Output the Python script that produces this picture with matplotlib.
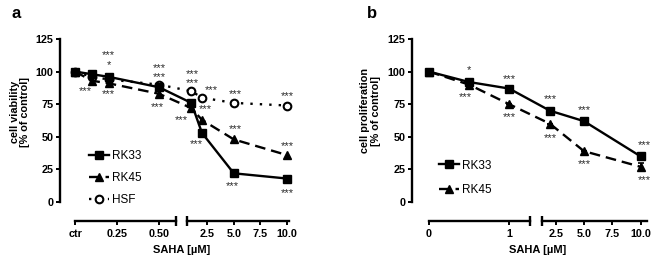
import numpy as np
import matplotlib
matplotlib.use('Agg')
import matplotlib.pyplot as plt
from matplotlib.spines import Spine
import matplotlib.transforms as mtransforms

plt.rcParams['font.family'] = ['Liberation Sans', 'DejaVu Sans']

# ---- data panel a (cell viability) ----
conc_a = [0, 0.1, 0.2, 0.5, 1, 2, 5, 10]
rk33_a = [100, 98, 96, 88, 76, 53, 22, 18]
rk45_a = [100, 93, 91, 83, 72, 63, 48, 36]
hsf_a = [100, 96, 94, 90, 85, 80, 76, 74]
ticks_a = [0, 0.25, 0.5, 2.5, 5, 7.5, 10]
ticklabels_a = ['ctr', '0.25', '0.50', '2.5', '5.0', '7.5', '10.0']

# ---- data panel b (cell proliferation) ----
conc_b = [0, 0.5, 1, 2, 5, 10]
rk33_b = [100, 92, 87, 70, 62, 35]
rk45_b = [100, 90, 75, 60, 39, 27]
rk45_b_err = [0, 0, 0, 0, 0, 3]
ticks_b = [0, 1, 2.5, 5, 7.5, 10]
ticklabels_b = ['0', '1', '2.5', '5.0', '7.5', '10.0']

# significance labels (x, y, text)
stars_a = [(0.06, 85, '***'), (0.2, 112.5, '***'), (0.2, 105, '*'), (0.2, 83, '***'),
           (0.5, 103, '***'), (0.5, 96, '***'), (0.49, 72.5, '***'),
           (1.05, 98, '***'), (1.05, 91, '***'), (2.9, 86, '***'), (2.3, 71, '***'),
           (0.61, 63, '***'), (1.5, 44.5, '***'),
           (5.1, 83, '***'), (5.1, 56, '***'), (4.9, 12.5, '***'),
           (10, 81, '***'), (10, 43, '***'), (10, 6.5, '***')]
stars_b = [(0.5, 101.5, '*'), (0.45, 80.5, '***'), (1, 94.5, '***'), (1, 65, '***'),
           (2, 79, '***'), (2, 49, '***'), (5, 70.5, '***'), (5, 29, '***'),
           (10.3, 43.5, '***'), (10.3, 16.5, '***')]

W, H = 654, 264
fig = plt.figure(figsize=(W / 100, H / 100), dpi=100)


def make_axes(left, right, xp, up, seg1, seg2):
    ax = fig.add_axes([left / W, (H - 202) / H, (right - left) / W, 163 / H])
    fwd = lambda x: np.interp(x, xp, up)
    inv = lambda u: np.interp(u, up, xp)
    ax.set_xscale('function', functions=(fwd, inv))
    ax.set_xlim(xp[0], xp[-1])
    ax.set_ylim(0, 125)
    ax.set_yticks([0, 25, 50, 75, 100, 125])
    for s in ['top', 'right']:
        ax.spines[s].set_visible(False)
    ax.spines['left'].set_linewidth(1.7)
    ax.spines['bottom'].set_position(('outward', 13.7))
    ax.spines['bottom'].set_bounds(*seg1)
    ax.spines['bottom'].set_linewidth(1.7)
    sp = Spine.linear_spine(ax, 'bottom')
    ax.spines['bottom2'] = sp
    sp.set_position(('outward', 13.7))
    sp.set_bounds(*seg2)
    sp.set_linewidth(1.7)
    # break bars
    trans = mtransforms.blended_transform_factory(ax.transData, ax.transAxes)
    ax.plot([seg1[1], seg2[0]], [-19 / 163] * 2, ls='none', marker='|', ms=6.5, mew=1.7,
            color='black', transform=trans, clip_on=False)
    ax.tick_params(axis='both', direction='out', length=3, width=1.4, labelsize=7.8)
    ax.tick_params(axis='x', pad=3)
    ax.tick_params(axis='y', pad=1.5)
    for lab in ax.get_xticklabels() + ax.get_yticklabels():
        lab.set_fontweight('bold')
    return ax


line_kw = dict(color='black', lw=1.7, ms=5.5, clip_on=False)
star_kw = dict(fontsize=8, ha='center', va='center', color='#2a2a2a')

# ---- panel a ----
axa = make_axes(60, 289, [-0.09, 0.6, 0.62, 10.2], [60, 175.8, 187.3, 289], (0, 0.6), (0.62, 10.2))
l_hsf, = axa.plot(conc_a, hsf_a, ls=(0, (1, 3)), marker='o', mfc='white', mew=1.5, **line_kw)
l_45, = axa.plot(conc_a, rk45_a, ls=(0, (4.5, 2.5)), marker='^', **line_kw)
l_33, = axa.plot(conc_a, rk33_a, ls='-', marker='s', **line_kw)
axa.set_xticks(ticks_a, ticklabels_a, fontweight='bold')
for x, y, t in stars_a:
    axa.text(x, y, t, **star_kw)
axa.legend([l_33, l_45, l_hsf], ['RK33', 'RK45', 'HSF'], loc='upper left',
           bbox_to_anchor=(0.125, 0.32), frameon=False,
           fontsize=8.5, handlelength=1.7, handletextpad=0.3, labelspacing=0.85,
           borderpad=0, borderaxespad=0)
axa.text(-0.175, 0.55, 'cell viability\n[% of control]', rotation=90, ha='center', va='center',
         fontsize=7.8, fontweight='bold', transform=axa.transAxes, linespacing=1.05)
axa.text(0.533, -0.295, 'SAHA [µM]', ha='center', va='center', fontsize=8,
         fontweight='bold', transform=axa.transAxes)

# ---- panel b ----
axb = make_axes(411.7, 646.7, [-0.215, 1.26, 1.27, 10.54], [411.7, 530, 541.7, 646.7],
                (0, 1.26), (1.27, 10.54))
eb = axb.errorbar(conc_b, rk45_b, yerr=rk45_b_err, ls=(0, (4.5, 2.5)), marker='^', capsize=2.5,
                  elinewidth=1.2, capthick=1.2, **line_kw)
m_33, = axb.plot(conc_b, rk33_b, ls='-', marker='s', **line_kw)
axb.set_xticks(ticks_b, ticklabels_b, fontweight='bold')
for x, y, t in stars_b:
    axb.text(x, y, t, **star_kw)
axb.legend([m_33, eb.lines[0]], ['RK33', 'RK45'], loc='upper left',
           bbox_to_anchor=(0.115, 0.26), frameon=False,
           fontsize=8.5, handlelength=1.7, handletextpad=0.3, labelspacing=1.05,
           borderpad=0, borderaxespad=0)
axb.text(-0.175, 0.56, 'cell proliferation\n[% of control]', rotation=90, ha='center', va='center',
         fontsize=7.8, fontweight='bold', transform=axb.transAxes, linespacing=1.05)
axb.text(0.537, -0.295, 'SAHA [µM]', ha='center', va='center', fontsize=8,
         fontweight='bold', transform=axb.transAxes)

fig.text(16 / W, 1 - 14 / H, 'a', fontsize=12, fontweight='bold', ha='center', va='center')
fig.text(372 / W, 1 - 14 / H, 'b', fontsize=12, fontweight='bold', ha='center', va='center')

fig.savefig('out.png', dpi=100)
